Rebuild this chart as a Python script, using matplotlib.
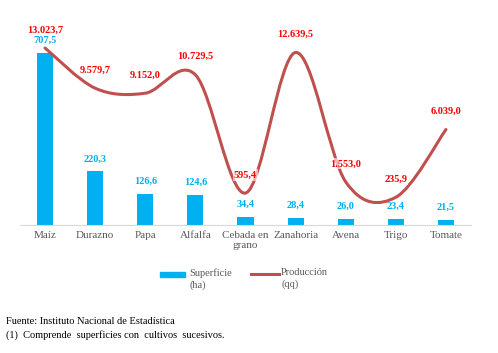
import matplotlib
matplotlib.use("Agg")
import matplotlib.pyplot as plt
from matplotlib.path import Path
from matplotlib.patches import PathPatch, Rectangle
from matplotlib.lines import Line2D
import numpy as np

cultivos = ["Maíz", "Durazno", "Papa", "Alfalfa", "Cebada en\ngrano",
            "Zanahoria", "Avena", "Trigo", "Tomate"]
superficie = [707.5, 220.3, 126.6, 124.6, 34.4, 28.4, 26.0, 23.4, 21.5]
produccion = [13023.7, 9579.7, 9152.0, 10729.5, 595.4, 12639.5, 1553.0, 235.9, 6039.0]

BLUE = "#00B0F0"
RED_LINE = "#C0504D"
RED_TXT = "#FF0000"
GRAY = "#595959"
SERIF = "Liberation Serif"


def fmt_es(v):
    # 13023.7 -> 13.023,7
    s = "{:,.1f}".format(v)
    return s.replace(",", "#").replace(".", ",").replace("#", ".")


def smooth_path(xs, ys):
    # Bezier segments through the points (Catmull-Rom control points, like Excel "smoothed line")
    pts = np.column_stack([xs, ys]).astype(float)
    n = len(pts)
    verts = [pts[0]]
    codes = [Path.MOVETO]
    for i in range(n - 1):
        p0 = pts[i - 1] if i > 0 else pts[i]
        p1 = pts[i]
        p2 = pts[i + 1]
        p3 = pts[i + 2] if i + 2 < n else pts[i + 1]
        c1 = p1 + (p2 - p0) / 6.0
        c2 = p2 - (p3 - p1) / 6.0
        verts += [c1, c2, p2]
        codes += [Path.CURVE4] * 3
    return Path(verts, codes)


W, H = 498, 353
fig = plt.figure(figsize=(W / 100, H / 100), dpi=100)
ax = fig.add_axes([20 / W, 1 - 225 / H, 451 / W, 195 / H])

x = np.arange(len(cultivos))
ax.bar(x, superficie, width=0.32, color=BLUE, zorder=2)
ax.set_xlim(-0.5, len(cultivos) - 0.5)
ax.set_ylim(0, 800)
ax.set_xticks(x)
ax.set_xticklabels(cultivos, fontfamily=SERIF, fontsize=8, color=GRAY, linespacing=1.15)
ax.tick_params(axis="x", length=0, pad=4)
ax.set_yticks([])
for s in ["top", "left", "right"]:
    ax.spines[s].set_visible(False)
ax.spines["bottom"].set_color("#D9D9D9")
ax.spines["bottom"].set_linewidth(0.8)

for xi, v in zip(x, superficie):
    ax.annotate(fmt_es(v), (xi, v), xytext=(0, 9), textcoords="offset points",
                ha="center", va="center", fontsize=7.5, fontweight="bold",
                color=BLUE, fontfamily=SERIF)

ax2 = ax.twinx()
ax2.set_ylim(-2142, 14567)
ax2.set_yticks([])
for s in ax2.spines.values():
    s.set_visible(False)
ax2.add_patch(PathPatch(smooth_path(x, produccion), fill=False,
                        edgecolor=RED_LINE, lw=2.2, capstyle="round", zorder=3))

for xi, v in zip(x, produccion):
    ax2.annotate(fmt_es(v), (xi, v), xytext=(0, 13), textcoords="offset points",
                 ha="center", va="center", fontsize=7.5, fontweight="bold",
                 color=RED_TXT, fontfamily=SERIF, zorder=4,
                 bbox=dict(boxstyle="square,pad=0.1", fc="white", ec="none", alpha=0.6))

# legend
fig.add_artist(Rectangle((160 / W, 1 - 277 / H), 25 / W, 5 / H,
                         transform=fig.transFigure, color=BLUE))
fig.add_artist(Line2D([251 / W, 279 / W], [1 - 274 / H, 1 - 274 / H],
                      transform=fig.transFigure, color=RED_LINE, lw=2.2))
fig.text(189 / W, 1 - 268 / H, "Superficie\n(ha)", fontfamily=SERIF, fontsize=7.5,
         color=GRAY, va="top", ha="left", linespacing=1.3)
fig.text(281 / W, 1 - 268 / H, "Producción\n(qq)", fontfamily=SERIF, fontsize=7.5,
         color=GRAY, va="top", ha="left", linespacing=1.3)

# footnote
fig.text(6 / W, 1 - 322 / H, "Fuente: Instituto Nacional de Estadística",
         fontfamily=SERIF, fontsize=7.5, color="black", va="center", ha="left")
fig.text(6 / W, 1 - 335 / H, "(1)  Comprende  superficies con  cultivos  sucesivos.",
         fontfamily=SERIF, fontsize=7.5, color="black", va="center", ha="left")

fig.savefig("out.png", dpi=100, facecolor="white")
